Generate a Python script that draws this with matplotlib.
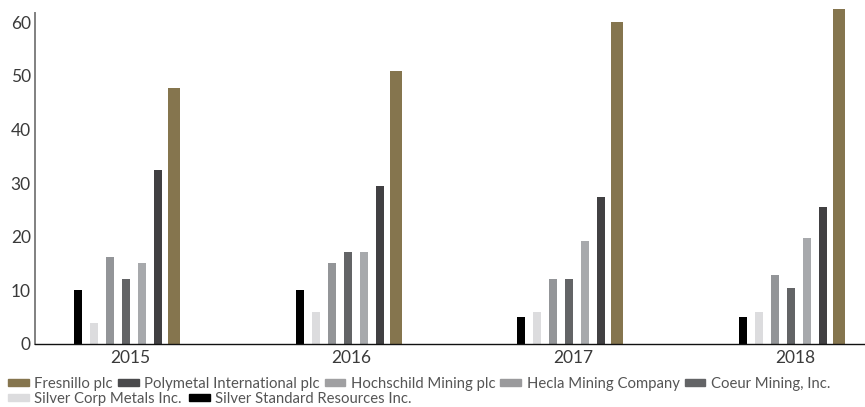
import matplotlib.pyplot as plt
from matplotlib.patches import Patch
import numpy as np

plt.rcParams['font.family'] = ['Lato', 'DejaVu Sans']

years = ['2015', '2016', '2017', '2018']

# series in bar order (left to right inside each year)
companies = ['Silver Standard Resources Inc.', 'Silver Corp Metals Inc.', 'Coeur Mining, Inc.',
             'Hecla Mining Company', 'Hochschild Mining plc', 'Polymetal International plc',
             'Fresnillo plc']
ssr = [10, 10, 5, 5]
silvercorp = [4, 6, 6, 6]
coeur = [16.2, 15.1, 12.1, 12.9]
hecla = [12.1, 17.1, 12.1, 10.4]
hochschild = [15.1, 17.1, 19.2, 19.75]
polymetal = [32.5, 29.4, 27.4, 25.5]
fresnillo = [47.7, 50.9, 60.0, 62.4]
series = [ssr, silvercorp, coeur, hecla, hochschild, polymetal, fresnillo]

bar_colors = ['#000000', '#dcdcde', '#939598', '#636466', '#a7a9ac', '#414042', '#85754e']

# legend as shown in the picture
legend_row1 = ['Fresnillo plc', 'Polymetal International plc', 'Hochschild Mining plc',
               'Hecla Mining Company', 'Coeur Mining, Inc.']
legend_row1_colors = ['#85754e', '#4a4a4c', '#a0a0a2', '#9a9a9c', '#636466']
legend_row2 = ['Silver Corp Metals Inc.', 'Silver Standard Resources Inc.']
legend_row2_colors = ['#dcdcde', '#000000']

fig = plt.figure(figsize=(8.65, 4.07), dpi=100)
ax = fig.add_axes([35 / 865, 63 / 407, 830 / 865, 331 / 407])

x = np.arange(len(years))
step = 16 / 222
offsets = [-52 / 222 + i * step for i in range(7)]
for i, vals in enumerate(series):
    w = 12 / 222 if i == 6 else 8 / 222
    ax.bar(x + offsets[i], vals, width=w, color=bar_colors[i], clip_on=False, zorder=2)

ax.set_xlim(-95 / 222, 3 + 70 / 222)
ax.set_ylim(0, 61.7)
ax.set_yticks([0, 10, 20, 30, 40, 50, 60])
ax.set_xticks(x)
ax.set_xticklabels(years)
ax.tick_params(length=0, labelsize=12.5, colors='#3a3a3a', pad=4)
ax.tick_params(axis='y', pad=3)

for s in ['top', 'right']:
    ax.spines[s].set_visible(False)
ax.spines['left'].set_color('#808080')
ax.spines['left'].set_linewidth(1.4)
ax.spines['bottom'].set_color('#111111')
ax.spines['bottom'].set_linewidth(1.0)

leg_kw = dict(frameon=False, handlelength=1.4, handleheight=0.4, handletextpad=0.35,
              borderaxespad=0, borderpad=0,
              prop={'size': 10.7}, labelcolor='#555555')
h1 = [Patch(color=c, label=l) for c, l in zip(legend_row1_colors, legend_row1)]
h2 = [Patch(color=c, label=l) for c, l in zip(legend_row2_colors, legend_row2)]
leg1 = fig.legend(handles=h1, ncol=5, loc='center left', columnspacing=0.35,
                  bbox_to_anchor=(8 / 865, 1 - 384 / 407), **leg_kw)
leg2 = fig.legend(handles=h2, ncol=2, loc='center left', columnspacing=0.5,
                  bbox_to_anchor=(8 / 865, 1 - 399 / 407), **leg_kw)

fig.savefig('out.png', dpi=100)
